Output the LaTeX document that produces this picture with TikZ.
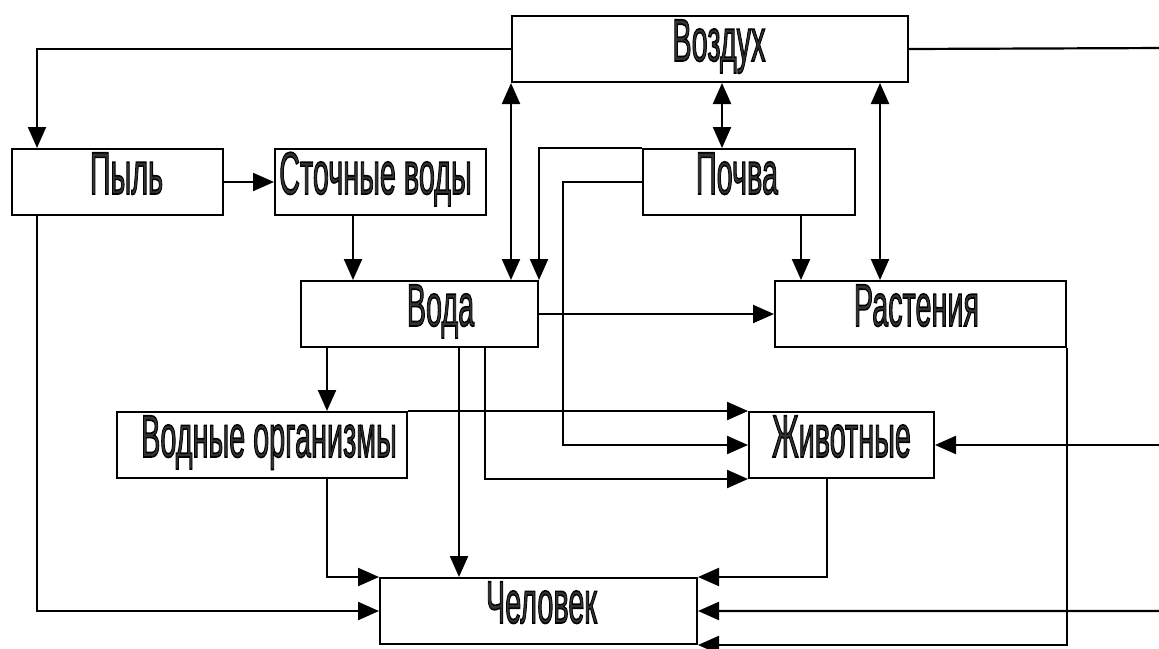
\documentclass[tikz,border=0pt]{standalone}
\usepackage{fontspec}
\setmainfont{Liberation Sans}
\usetikzlibrary{arrows.meta,calc}
\newcommand\otxt[2][0pt]{\hspace*{#1}\scalebox{0.48}[1]{\special{pdf:literal direct 2 Tr 1.6 w 0 G 0.2 g}#2\special{pdf:literal direct 0 Tr 0 g}}}
\tikzset{
  box/.style={draw, line width=2pt, anchor=north west, inner xsep=0pt, inner ysep=0pt,
    font=\fontsize{60}{60}\selectfont, text height=45pt, text depth=21pt, minimum height=66pt},
  conn/.style={line width=2.2pt},
  arr/.style={conn, -{Triangle[length=21pt,width=18pt]}},
  darr/.style={conn, {Triangle[length=21pt,width=18pt]}-{Triangle[length=21pt,width=18pt]}}
}
\begin{document}
\begin{tikzpicture}[x=1pt,y=-1pt]
\useasboundingbox (0,0) rectangle (1159,648);
% boxes
\node[box, minimum width=396pt] (vozd) at (511,15) {\otxt[18pt]{Воздух}};
\node[box, minimum width=211pt] (pyl) at (11,148) {\otxt[18pt]{Пыль}};
\node[box, minimum width=211pt] (stoch) at (274,148) {\otxt{Сточные воды}\hspace*{10pt}};
\node[box, minimum width=212pt] (pochva) at (642,148) {\otxt{Почва}\hspace*{24pt}};
\node[box, minimum width=237pt] (voda) at (300,280) {\otxt[42pt]{Вода}};
\node[box, minimum width=291pt] (rast) at (774,280) {\otxt{Растения}\hspace*{8pt}};
\node[box, minimum width=290pt] (vorg) at (116,411) {\otxt[14pt]{Водные организмы}};
\node[box, minimum width=185pt] (zhiv) at (748,411) {\otxt{Животные}};
\node[box, minimum width=317pt] (chel) at (379,577) {\otxt[6pt]{Человек}};
% right edge column
\coordinate (redge) at (1167,48);
% connectors
\draw[arr] (vozd.west) -| ($(pyl.north west)+(26,0)$);
\draw[arr] (vozd.east) -- (redge) |- (chel.east);
\draw[arr] (redge |- zhiv.east) -- (zhiv.east);
\draw[arr] (pyl.east) -- (stoch.west);
\draw[arr] ($(pyl.south west)+(26,0)$) |- (chel.west);
\draw[arr] ($(stoch.south west)+(79,0)$) coordinate (s1) -- (s1 |- voda.north);
\draw[darr] (vozd.south west) -- (vozd.south west |- voda.north);
\draw[arr] (pochva.north west) -- (voda.north east |- pochva.north west) -- (voda.north east);
\coordinate (px) at (563,0);
\draw[arr] (pochva.west) -- (pochva.west -| px) |- (zhiv.west);
\draw[darr] ($(vozd.south west)+(211,0)$) coordinate (d1) -- (d1 |- pochva.north);
\draw[darr] ($(vozd.south west)+(369,0)$) coordinate (d2) -- (d2 |- rast.north);
\draw[arr] ($(pochva.south west)+(159,0)$) coordinate (p1) -- (p1 |- rast.north);
\draw[arr] (voda.east) -- (rast.west);
\draw[arr] ($(voda.south west)+(27,0)$) coordinate (w1) -- (w1 |- vorg.north);
\draw[arr] ($(voda.south west)+(159,0)$) coordinate (w2) -- (w2 |- chel.north);
\draw[arr] ($(voda.south west)+(185,0)$) |- (zhiv.south west);
\draw[arr] (vorg.north east) -- (zhiv.north west);
\draw[arr] ($(vorg.south west)+(211,0)$) |- (chel.north west);
\draw[arr] ($(zhiv.south west)+(79,0)$) |- (chel.north east);
\draw[arr] (rast.south east) |- (chel.south east);
\end{tikzpicture}
\end{document}
